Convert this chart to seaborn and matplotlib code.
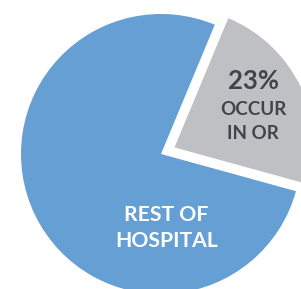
import matplotlib
matplotlib.use("Agg")
import matplotlib.pyplot as plt
import seaborn as sns

# share of events by location
categories = ["Occur in OR", "Rest of hospital"]
values = [23, 77]
colors = ["#BFC0C4", "#659FD4"]

sns.set_style("white")
plt.rcParams['font.family'] = ['Lato', 'DejaVu Sans']

fig = plt.figure(figsize=(3.01, 2.89), dpi=100)
ax = fig.add_axes([0, 0, 1, 1])

ax.pie(values, colors=colors, startangle=-15.4, explode=[0.107, 0],
       radius=1.0, center=(0, 0), wedgeprops={'linewidth': 0})

# labels
ax.text(0.66, 0.464, f"{values[0]}%", ha='center', va='baseline',
        fontsize=18.5, fontweight='bold', color='#41444C')
ax.text(0.66, 0.279, "OCCUR", ha='center', va='baseline',
        fontsize=13.5, fontweight='bold', color='#41444C')
ax.text(0.66, 0.107, "IN OR", ha='center', va='baseline',
        fontsize=13.5, fontweight='bold', color='#41444C')
ax.text(0.039, -0.479, "REST OF", ha='center', va='baseline',
        fontsize=15.2, fontweight='bold', color='white')
ax.text(0.039, -0.664, "HOSPITAL", ha='center', va='baseline',
        fontsize=15.2, fontweight='bold', color='white')

ax.set_xlim(-161 / 140, 140 / 140)
ax.set_ylim(-135 / 140, 154 / 140)
ax.set_aspect('auto')
ax.axis('off')

fig.savefig("out.png", dpi=100, facecolor='white')
